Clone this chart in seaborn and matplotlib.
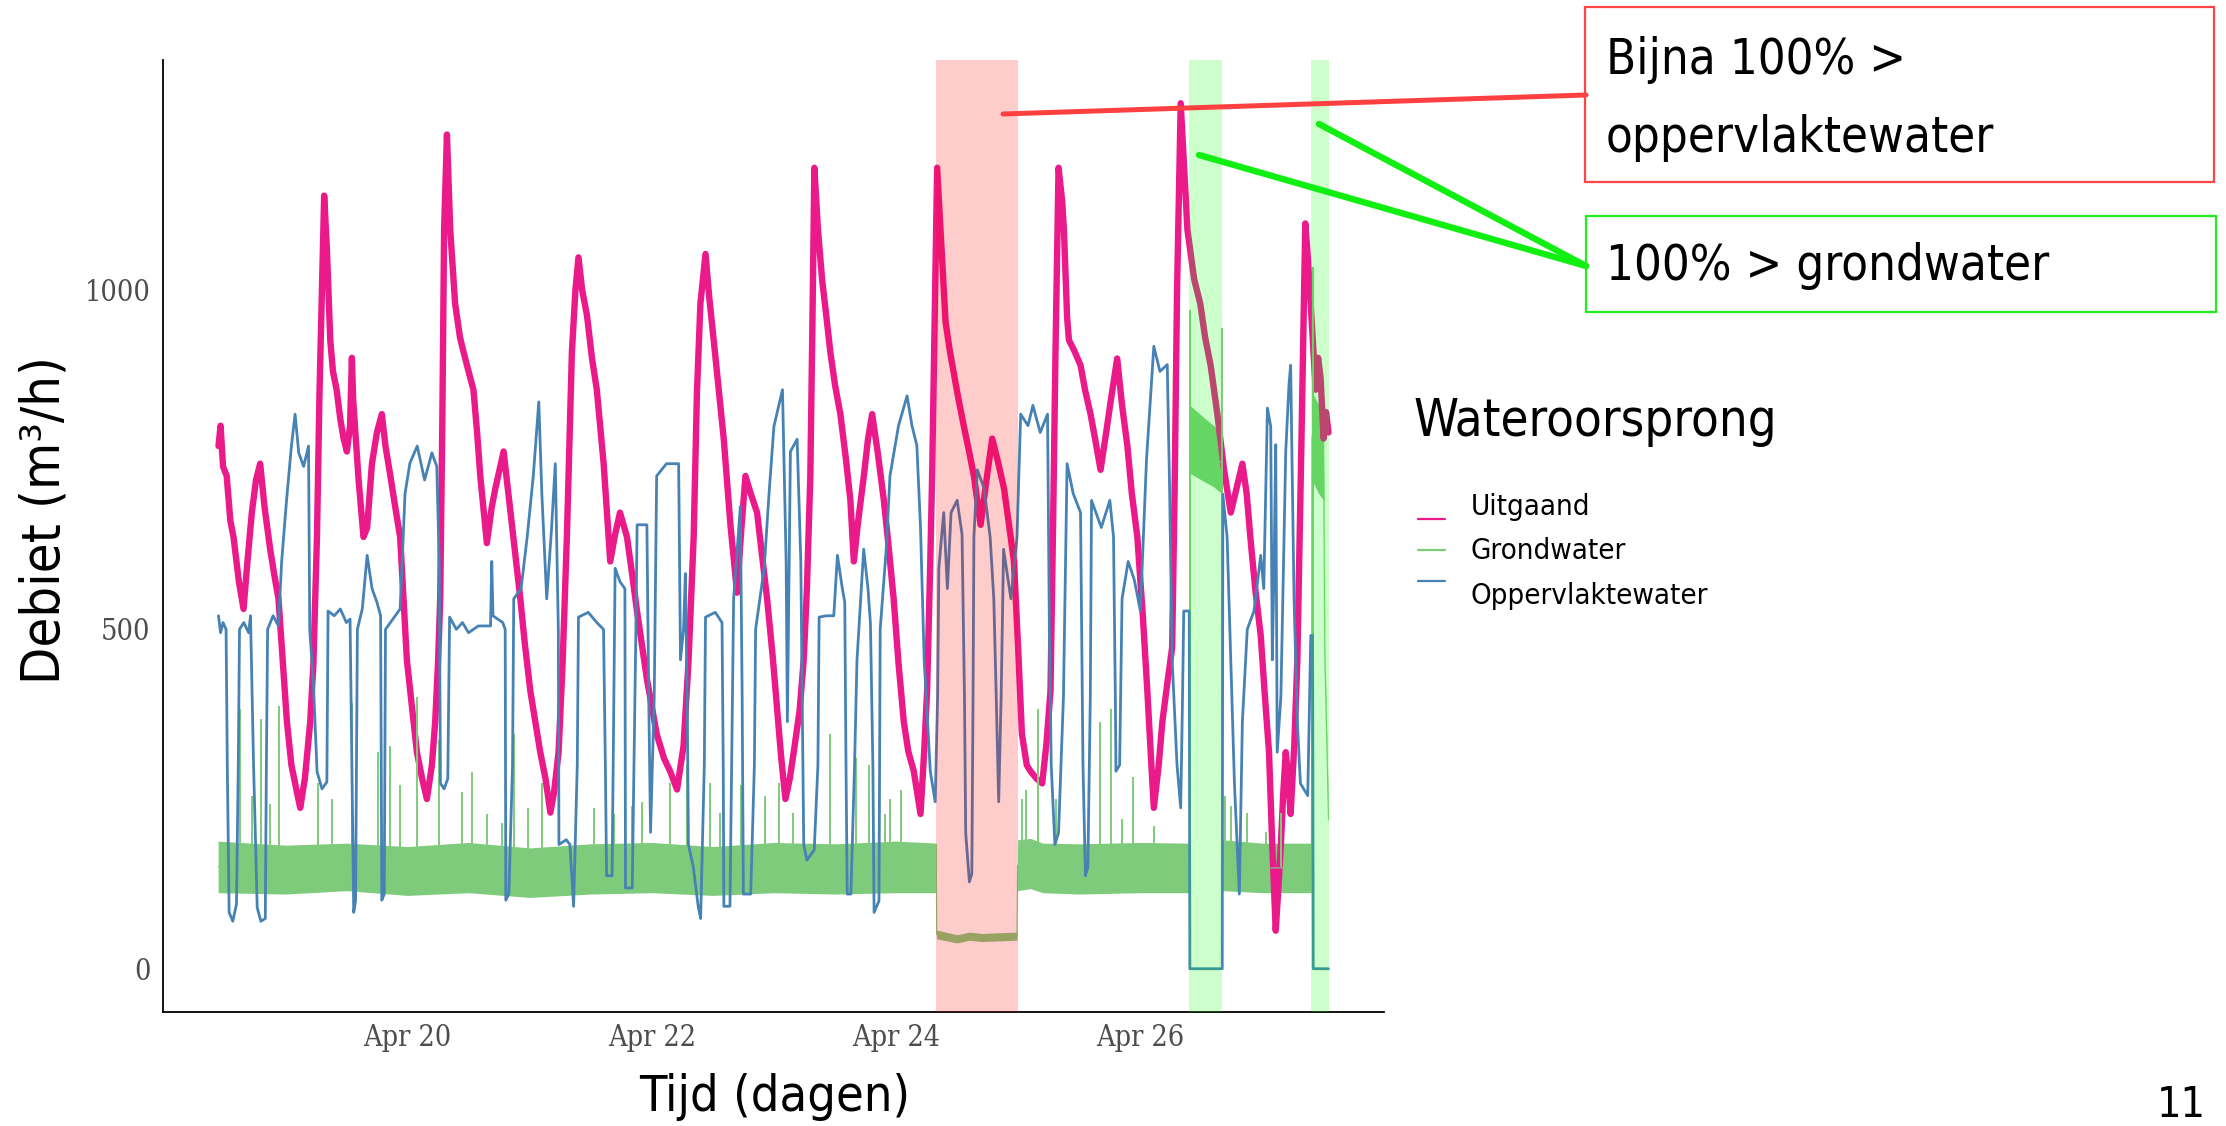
import numpy as np
import pandas as pd
import matplotlib
matplotlib.use("Agg")
import matplotlib.pyplot as plt
import seaborn as sns
from matplotlib.lines import Line2D
from matplotlib.patches import Rectangle
from matplotlib import font_manager
from matplotlib.font_manager import FontProperties

# ---- data (dag van april, debiet m3/h) ----
uitgaand = [
    (18.453, 770), (18.47, 800), (18.49, 740), (18.52, 726), (18.55, 660), (18.576, 636),
    (18.62, 570), (18.658, 530), (18.69, 600), (18.726, 672), (18.76, 720), (18.794, 744),
    (18.83, 680), (18.876, 618), (18.91, 580), (18.944, 545), (18.98, 450), (19.013, 364),
    (19.05, 300), (19.095, 260), (19.122, 237), (19.16, 280), (19.204, 364), (19.23, 450),
    (19.259, 636), (19.28, 850), (19.30, 1000), (19.318, 1139), (19.34, 1062), (19.368, 926),
    (19.39, 880), (19.42, 853), (19.45, 810), (19.477, 781), (19.504, 762), (19.53, 800),
    (19.545, 900), (19.555, 840), (19.57, 799), (19.60, 720), (19.64, 636), (19.67, 650),
    (19.709, 744), (19.75, 790), (19.79, 817), (19.82, 770), (19.86, 726), (19.90, 680),
    (19.94, 636), (19.995, 455), (20.04, 380), (20.077, 319), (20.12, 280), (20.159, 250),
    (20.20, 300), (20.227, 364), (20.25, 450), (20.268, 545), (20.285, 800), (20.30, 1089),
    (20.323, 1229), (20.35, 1089), (20.39, 980), (20.43, 930), (20.46, 908), (20.50, 880),
    (20.54, 853), (20.57, 790), (20.596, 726), (20.65, 627), (20.69, 680), (20.72, 708),
    (20.787, 762), (20.82, 710), (20.855, 654), (20.924, 545), (20.96, 480), (21.006, 409),
    (21.05, 360), (21.087, 319), (21.13, 280), (21.17, 230), (21.20, 260), (21.237, 319),
    (21.27, 450), (21.305, 636), (21.346, 908), (21.375, 1000), (21.40, 1048), (21.43, 1000),
    (21.47, 962), (21.51, 900), (21.55, 853), (21.606, 744), (21.66, 600), (21.70, 640),
    (21.74, 672), (21.797, 636), (21.84, 580), (21.879, 527), (21.96, 427), (22.04, 346),
    (22.10, 310), (22.15, 291), (22.207, 264), (22.26, 328), (22.30, 450), (22.343, 636),
    (22.37, 850), (22.398, 980), (22.44, 1053), (22.47, 990), (22.507, 926), (22.55, 850),
    (22.589, 781), (22.644, 654), (22.698, 554), (22.73, 640), (22.767, 726), (22.81, 700),
    (22.862, 672), (22.944, 545), (22.99, 460), (23.026, 382), (23.06, 310), (23.094, 250),
    (23.13, 280), (23.162, 319), (23.21, 380), (23.244, 455), (23.27, 560), (23.298, 726),
    (23.315, 950), (23.331, 1180), (23.36, 1090), (23.394, 1016), (23.43, 960), (23.462, 908),
    (23.50, 860), (23.544, 817), (23.59, 750), (23.626, 690), (23.654, 600), (23.69, 660),
    (23.736, 726), (23.77, 780), (23.804, 817), (23.85, 760), (23.90, 690), (23.94, 620),
    (23.98, 545), (24.02, 450), (24.063, 364), (24.10, 320), (24.145, 291), (24.20, 228),
    (24.23, 320), (24.254, 409), (24.28, 600), (24.295, 726), (24.315, 950), (24.336, 1180),
    (24.364, 1089), (24.405, 953), (24.44, 910), (24.47, 880), (24.51, 840), (24.555, 799),
    (24.60, 760), (24.637, 726), (24.692, 654), (24.74, 720), (24.787, 781), (24.83, 750),
    (24.883, 708), (24.92, 660), (24.965, 600), (25.0, 470), (25.03, 346), (25.07, 300),
    (25.10, 291), (25.15, 280), (25.196, 273), (25.23, 330), (25.264, 409), (25.285, 650),
    (25.305, 908), (25.33, 1180), (25.36, 1130), (25.374, 1089), (25.40, 960), (25.415, 926),
    (25.46, 910), (25.51, 889), (25.55, 850), (25.592, 817), (25.63, 780), (25.674, 735),
    (25.72, 790), (25.756, 835), (25.81, 899), (25.85, 830), (25.893, 771), (25.93, 700),
    (25.975, 636), (26.02, 520), (26.057, 409), (26.09, 300), (26.11, 237), (26.15, 300),
    (26.18, 364), (26.22, 420), (26.26, 473), (26.28, 700), (26.30, 998), (26.33, 1275),
    (26.345, 1225), (26.385, 1089), (26.44, 1016), (26.49, 980), (26.53, 930), (26.575, 889),
    (26.63, 817), (26.685, 735), (26.74, 672), (26.79, 710), (26.835, 744), (26.87, 700),
    (26.90, 636), (26.94, 560), (26.985, 491), (27.02, 400), (27.053, 319), (27.08, 180),
    (27.108, 56), (27.13, 120), (27.15, 183), (27.17, 260), (27.19, 319), (27.21, 280),
    (27.23, 228), (27.26, 330), (27.285, 455), (27.30, 600), (27.318, 772), (27.35, 1098),
    (27.37, 1050), (27.394, 980), (27.435, 853), (27.455, 900), (27.475, 871), (27.50, 781),
    (27.52, 820), (27.54, 790),
]

oppervlaktewater = [
    (18.453, 520), (18.47, 495), (18.49, 510), (18.515, 500), (18.525, 300), (18.54, 83),
    (18.57, 70), (18.60, 95), (18.615, 300), (18.625, 500), (18.66, 510), (18.70, 495),
    (18.715, 520), (18.74, 300), (18.77, 90), (18.80, 70), (18.836, 74), (18.845, 300),
    (18.855, 500), (18.90, 520), (18.944, 505), (18.97, 600), (19.01, 690), (19.05, 770),
    (19.08, 817), (19.11, 760), (19.15, 740), (19.19, 770), (19.20, 500), (19.23, 420),
    (19.26, 290), (19.30, 265), (19.34, 275), (19.35, 527), (19.40, 520), (19.45, 530),
    (19.50, 510), (19.53, 515), (19.545, 300), (19.56, 83), (19.575, 100), (19.59, 500),
    (19.63, 530), (19.67, 609), (19.71, 560), (19.75, 540), (19.78, 520), (19.79, 101),
    (19.81, 110), (19.82, 500), (19.86, 510), (19.90, 520), (19.94, 530), (19.98, 700),
    (20.02, 745), (20.08, 770), (20.14, 720), (20.20, 760), (20.24, 740), (20.26, 600),
    (20.27, 273), (20.30, 265), (20.33, 280), (20.345, 518), (20.40, 500), (20.45, 510),
    (20.50, 495), (20.58, 505), (20.68, 505), (20.69, 600), (20.70, 520), (20.78, 510),
    (20.80, 500), (20.805, 101), (20.83, 110), (20.86, 300), (20.87, 545), (20.93, 560),
    (20.98, 636), (21.03, 726), (21.075, 835), (21.10, 700), (21.14, 545), (21.18, 650),
    (21.21, 744), (21.235, 500), (21.24, 183), (21.30, 190), (21.33, 183), (21.36, 92),
    (21.39, 300), (21.40, 518), (21.48, 525), (21.55, 510), (21.605, 500), (21.62, 300),
    (21.63, 137), (21.675, 137), (21.69, 400), (21.70, 590), (21.74, 570), (21.78, 560),
    (21.785, 119), (21.84, 119), (21.87, 500), (21.88, 654), (21.96, 654), (21.975, 400),
    (21.99, 201), (22.02, 400), (22.04, 726), (22.12, 744), (22.22, 744), (22.235, 455),
    (22.26, 500), (22.275, 582), (22.29, 400), (22.30, 183), (22.34, 150), (22.38, 92),
    (22.40, 74), (22.43, 300), (22.44, 518), (22.52, 525), (22.575, 510), (22.585, 300),
    (22.59, 92), (22.64, 92), (22.66, 400), (22.67, 545), (22.70, 620), (22.725, 681),
    (22.74, 400), (22.75, 110), (22.81, 110), (22.84, 300), (22.85, 500), (22.92, 590),
    (22.96, 700), (23.0, 799), (23.07, 853), (23.10, 600), (23.11, 364), (23.125, 600),
    (23.135, 762), (23.19, 780), (23.22, 600), (23.244, 183), (23.27, 160), (23.33, 175),
    (23.36, 300), (23.37, 518), (23.43, 520), (23.49, 520), (23.52, 609), (23.56, 560),
    (23.58, 540), (23.59, 300), (23.60, 110), (23.63, 110), (23.66, 300), (23.68, 455),
    (23.735, 618), (23.77, 560), (23.79, 509), (23.81, 300), (23.82, 83), (23.86, 100),
    (23.87, 500), (23.92, 620), (23.95, 726), (24.02, 800), (24.09, 844), (24.13, 800),
    (24.17, 771), (24.20, 650), (24.23, 455), (24.28, 291), (24.32, 246), (24.34, 400),
    (24.35, 590), (24.39, 672), (24.42, 560), (24.45, 672), (24.50, 690), (24.54, 640),
    (24.56, 400), (24.57, 200), (24.60, 128), (24.62, 140), (24.63, 400), (24.637, 636),
    (24.665, 735), (24.72, 708), (24.77, 636), (24.80, 545), (24.82, 400), (24.84, 246),
    (24.86, 400), (24.88, 618), (24.94, 545), (24.99, 636), (25.02, 817), (25.08, 800),
    (25.12, 830), (25.18, 790), (25.24, 817), (25.255, 500), (25.27, 300), (25.30, 183),
    (25.33, 200), (25.37, 400), (25.40, 744), (25.45, 700), (25.51, 672), (25.53, 300),
    (25.55, 137), (25.57, 150), (25.59, 400), (25.60, 690), (25.68, 650), (25.75, 690),
    (25.78, 636), (25.795, 400), (25.80, 291), (25.83, 300), (25.85, 545), (25.90, 600),
    (25.95, 573), (26.00, 527), (26.05, 750), (26.11, 917), (26.16, 880), (26.22, 890),
    (26.24, 700), (26.26, 455), (26.30, 300), (26.33, 237), (26.345, 400), (26.355, 527),
    (26.40, 527), (26.405, 0), (26.67, 0), (26.675, 699), (26.71, 636), (26.74, 455),
    (26.77, 273), (26.81, 110), (26.835, 364), (26.875, 500), (26.93, 527), (26.985, 609),
    (27.01, 560), (27.04, 826), (27.067, 799), (27.08, 455), (27.095, 600), (27.108, 772),
    (27.12, 319), (27.15, 400), (27.19, 762), (27.217, 862), (27.23, 889), (27.258, 545),
    (27.285, 364), (27.31, 273), (27.37, 255), (27.395, 491), (27.41, 491), (27.415, 0),
    (27.54, 0),
]

# grondwater: (tijd, onderkant band, bovenkant band)
grondwater = [
    (18.45, 112, 188), (19.0, 110, 182), (19.5, 115, 185), (20.0, 108, 180), (20.5, 112, 186),
    (21.0, 105, 178), (21.5, 110, 184), (22.0, 112, 186), (22.5, 108, 180), (23.0, 112, 186),
    (23.5, 110, 184), (24.0, 112, 188), (24.33, 112, 185), (24.332, 44, 57), (24.5, 38, 50),
    (24.6, 42, 54), (24.7, 40, 52), (24.99, 42, 54), (24.995, 115, 190), (25.1, 118, 192),
    (25.2, 112, 185), (25.5, 110, 184), (26.0, 112, 186), (26.40, 112, 185), (26.405, 730, 830),
    (26.5, 720, 815), (26.6, 710, 800), (26.665, 700, 790), (26.67, 115, 190), (27.0, 112, 185),
    (27.40, 112, 185), (27.405, 720, 850), (27.46, 700, 830), (27.50, 690, 800),
    (27.51, 440, 480), (27.54, 210, 230),
]
grond_pieken = [
    (18.63, 382), (18.726, 255), (18.80, 368), (18.876, 242), (18.95, 387), (19.27, 273),
    (19.38, 250), (19.545, 391), (19.76, 319), (19.86, 328), (19.94, 270), (20.08, 400),
    (20.26, 337), (20.45, 260), (20.53, 290), (20.65, 228), (20.77, 215), (20.87, 346),
    (20.99, 237), (21.10, 273), (21.525, 237), (21.69, 228), (21.84, 240), (21.92, 246),
    (22.15, 273), (22.29, 300), (22.48, 273), (22.56, 230), (22.73, 270), (22.93, 255),
    (23.04, 273), (23.16, 230), (23.46, 346), (23.67, 310), (23.78, 300), (23.91, 228),
    (23.95, 250), (24.04, 264), (25.03, 250), (25.06, 264), (25.16, 382), (25.31, 250),
    (25.67, 364), (25.76, 382), (25.85, 220), (25.94, 282), (26.11, 210), (26.41, 971),
    (26.665, 944), (26.69, 255), (26.74, 240), (26.875, 230), (27.03, 201), (27.15, 230),
    (27.41, 1034),
]

rood_periode = [(24.33, 24.995)]
groen_periodes = [(26.40, 26.67), (27.40, 27.545)]
y_ticks = [0, 500, 1000]
x_ticks = [20, 22, 24, 26]
x_ticklabels = ["Apr 20", "Apr 22", "Apr 24", "Apr 26"]

kleuren = {"Uitgaand": "#EA1A8A", "Grondwater": "#7FCB7C", "Oppervlaktewater": "#4682B4"}

# ---- lettertypen: zoek een smalle variant ----
ttf = font_manager.fontManager.ttflist


def regular(f):
    return f.style == "normal" and str(f.weight) in ("400", "normal", "regular")


def zoek(*tests):
    for test in tests:
        for f in ttf:
            if regular(f) and test(f):
                return f.fname
    return None


smal_pad = zoek(
    lambda f: f.name == "Liberation Sans Narrow",
    lambda f: f.name.startswith("Noto Sans") and f.name.endswith(" Condensed") and "Semi" not in f.name and "Extra" not in f.name,
    lambda f: f.name == "Noto Sans" and f.stretch in ("condensed", 75),
    lambda f: f.name.startswith("DejaVu Sans") and "Condensed" in f.name,
    lambda f: f.name == "DejaVu Sans" and f.stretch in ("condensed", "semi-condensed", 75, 87),
    lambda f: f.name == "DejaVu Sans",
)
serif_pad = zoek(
    lambda f: f.name.startswith("DejaVu Serif") and "Condensed" in f.name,
    lambda f: f.name == "DejaVu Serif" and f.stretch in ("condensed", "semi-condensed", 75, 87),
    lambda f: f.name == "DejaVu Serif",
)


def fp(pad, size):
    return FontProperties(fname=pad, size=size) if pad else FontProperties(family="DejaVu Sans", size=size)


# ---- figuur ----
W, H = 2226, 1126
sns.set_style("white")
plt.rcParams["font.family"] = ["DejaVu Sans"]

fig = plt.figure(figsize=(W / 100, H / 100), dpi=100)
ax = fig.add_axes([163 / W, 1 - 1012 / H, (1384 - 163) / W, (1012 - 60) / H])

df_uit = pd.DataFrame(uitgaand, columns=["t", "debiet"])
df_opp = pd.DataFrame(oppervlaktewater, columns=["t", "debiet"])
df_gr = pd.DataFrame(grondwater, columns=["t", "lo", "hi"])
df_gr_long = df_gr.melt(id_vars="t", value_vars=["lo", "hi"], value_name="debiet")

sns.lineplot(data=df_uit, x="t", y="debiet", color=kleuren["Uitgaand"], lw=4.6,
             estimator=None, sort=False, ax=ax, zorder=2)
# band tussen min en max = ruis van de grondwaterpomp
sns.lineplot(data=df_gr_long, x="t", y="debiet", color=kleuren["Grondwater"], lw=0.8,
             errorbar=("pi", 100), err_kws={"alpha": 1, "linewidth": 0}, ax=ax, zorder=3)
pk = pd.DataFrame(grond_pieken, columns=["t", "debiet"])
ax.vlines(pk["t"], 150, pk["debiet"], color=kleuren["Grondwater"], lw=1.4, zorder=3)
sns.lineplot(data=df_opp, x="t", y="debiet", color=kleuren["Oppervlaktewater"], lw=2.0,
             estimator=None, sort=False, ax=ax, zorder=4)

for a, b in rood_periode:
    ax.axvspan(a, b, color="red", alpha=0.2, lw=0, zorder=5)
for a, b in groen_periodes:
    ax.axvspan(a, b, color="#00FF00", alpha=0.2, lw=0, zorder=5)

# ggplot-achtige expansie van 5%
tmin, tmax = df_uit["t"].min(), df_uit["t"].max()
ymax = max(df_uit["debiet"].max(), df_opp["debiet"].max())
ax.set_xlim(tmin - 0.05 * (tmax - tmin), tmax + 0.05 * (tmax - tmin))
ax.set_ylim(-0.05 * ymax, 1.05 * ymax)
ax.set_xticks(x_ticks)
ax.set_xticklabels(x_ticklabels)
ax.set_yticks(y_ticks)
ax.set_xlabel("")
ax.set_ylabel("")
ax.tick_params(axis="both", length=5, width=1, color="#333333", labelcolor="#4D4D4D", pad=4)
sns.despine(ax=ax)
for s in ["left", "bottom"]:
    ax.spines[s].set_color("black")
    ax.spines[s].set_linewidth(1.3)

r = fig.canvas.get_renderer()
# tick-labels schalen naar breedte van "Apr 20" (~88 px)
for lab in ax.get_xticklabels() + ax.get_yticklabels():
    lab.set_fontproperties(fp(serif_pad, 20))
w = ax.get_xticklabels()[0].get_window_extent(r).width
for lab in ax.get_xticklabels() + ax.get_yticklabels():
    lab.set_fontsize(20 * 88 / w)


def fx(x):
    return x / W


def fy(y):
    return 1 - y / H


def tekst(x, y, s, breedte, ha="left", rot=0, **kw):
    # lettergrootte zo kiezen dat de tekst ongeveer de breedte uit het origineel krijgt
    t = fig.text(fx(x), fy(y), s, ha=ha, va="center", rotation=rot, color="black",
                 fontproperties=fp(smal_pad, 40), **kw)
    e = t.get_window_extent(r)
    t.set_fontsize(40 * 1.05 * breedte / (e.height if rot else e.width))
    return t


tekst(45, 520, "Debiet (m³/h)", 312, ha="center", rot=90)
tekst(775, 1097, "Tijd (dagen)", 257, ha="center")

# legenda
t_titel = tekst(1413, 422, "Wateroorsprong", 345)
t_opp = tekst(1471, 596, "Oppervlaktewater", 225)
for naam, yt in [("Uitgaand", 507), ("Grondwater", 551)]:
    fig.text(fx(1471), fy(yt), naam, ha="left", va="center", color="black",
             fontproperties=fp(smal_pad, t_opp.get_fontsize()))
for naam, yh in [("Uitgaand", 519), ("Grondwater", 550), ("Oppervlaktewater", 581)]:
    fig.add_artist(Line2D([fx(1418), fx(1445)], [fy(yh), fy(yh)], color=kleuren[naam], lw=1.6,
                          transform=fig.transFigure))

# paginanummer
fig.text(fx(2181), fy(1105), "11", ha="center", va="center", color="black",
         fontproperties=fp(smal_pad, 0.85 * t_titel.get_fontsize()))

# annotaties
fig.add_artist(Line2D([fx(1003), fx(1586)], [fy(114), fy(95)], color="#FF4040", lw=3.6,
                      transform=fig.transFigure, zorder=10))
for x0, y0 in [(1199, 155), (1319, 124)]:
    fig.add_artist(Line2D([fx(x0), fx(1586)], [fy(y0), fy(266)], color="#11EE11", lw=4.6,
                          transform=fig.transFigure, zorder=10))
fig.add_artist(Rectangle((fx(1585), fy(182)), fx(2214) - fx(1585), fy(7) - fy(182),
                         fill=False, ec="#FF4545", lw=1.6, transform=fig.transFigure, zorder=11))
fig.add_artist(Rectangle((fx(1586), fy(312)), fx(2216) - fx(1586), fy(216) - fy(312),
                         fill=False, ec="#22EE22", lw=1.6, transform=fig.transFigure, zorder=11))
t_gr = tekst(1606, 266, "100% > grondwater", 421)
for s, yy in [("Bijna 100% >", 60), ("oppervlaktewater", 138)]:
    fig.text(fx(1606), fy(yy), s, ha="left", va="center", color="black",
             fontproperties=fp(smal_pad, t_gr.get_fontsize()))

fig.savefig("out.png", dpi=100, facecolor="white")
